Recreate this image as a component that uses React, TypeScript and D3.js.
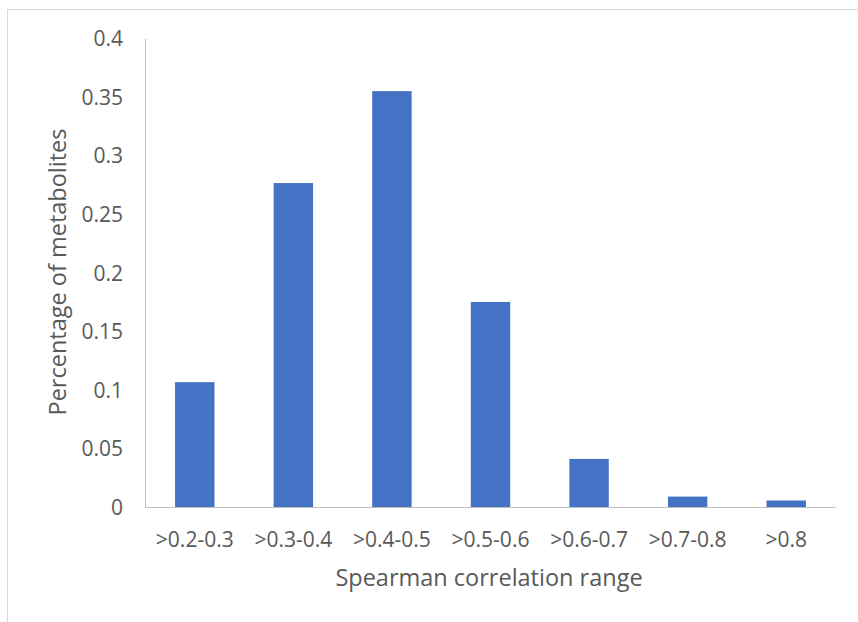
import React from "react";
import * as d3 from "d3";

const categories = [">0.2-0.3", ">0.3-0.4", ">0.4-0.5", ">0.5-0.6", ">0.6-0.7", ">0.7-0.8", ">0.8"];
const values = [0.107, 0.277, 0.3555, 0.1755, 0.0415, 0.0093, 0.006];
const yTicks = [0, 0.05, 0.1, 0.15, 0.2, 0.25, 0.3, 0.35, 0.4];

const W = 858, H = 622;
const left = 145.5, right = 835.5, top = 39, bottom = 507.5;
const FONT = "'Open Sans', sans-serif";
const TXT = "#595959";

export default function App() {
  const x = d3.scaleBand<string>().domain(categories).range([left, right]).paddingInner(0.6).paddingOuter(0.3);
  const y = d3.scaleLinear().domain([0, 0.4]).range([bottom, top]);
  return (
    <svg width={W} height={H} style={{ position: "absolute", left: 0, top: 0 }} fontFamily={FONT}>
      <rect x={0} y={0} width={W} height={H} fill="#fff" />
      <rect x={7.5} y={9.5} width={W + 10} height={H + 10} fill="none" stroke="#d9d9d9" strokeWidth={1} />
      {categories.map((c, i) => (
        <rect key={c} x={x(c)} y={y(values[i])} width={x.bandwidth()} height={y(0) - y(values[i])} fill="#4472C4" />
      ))}
      <line x1={left} x2={left} y1={top} y2={bottom} stroke="#bfbfbf" />
      <line x1={left} x2={right} y1={bottom} y2={bottom} stroke="#bfbfbf" />
      {yTicks.map((t) => (
        <text key={t} x={123} y={y(t)} dy="0.35em" textAnchor="end" fontSize={21} fill={TXT}>
          {d3.format("")(+t.toFixed(2))}
        </text>
      ))}
      {categories.map((c) => (
        <text key={c} x={x(c)! + x.bandwidth() / 2} y={540} dy="0.35em" textAnchor="middle" fontSize={21} fill={TXT}>
          {c}
        </text>
      ))}
      <text x={489} y={578} dy="0.35em" textAnchor="middle" fontSize={23.5} fill={TXT}>
        Spearman correlation range
      </text>
      <text transform={`translate(58,272) rotate(-90)`} dy="0.35em" textAnchor="middle" fontSize={23.5} fill={TXT}>
        Percentage of metabolites
      </text>
    </svg>
  );
}
